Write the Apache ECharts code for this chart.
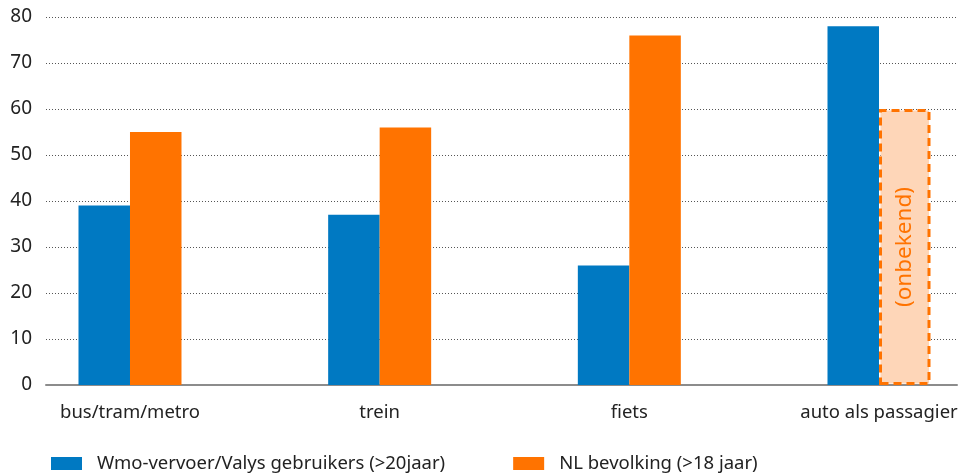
<!DOCTYPE html>
<html>
<head>
<meta charset="utf-8">
<script src="https://cdn.jsdelivr.net/npm/echarts@6/dist/echarts.min.js"></script>
<style>
  html, body { margin: 0; padding: 0; background: #fff; }
  #chart { width: 962px; height: 475px; }
</style>
</head>
<body>
<div id="chart"></div>
<script>
// Vervoerwijzen en aandeel gebruikers (%)
const categories = ['bus/tram/metro', 'trein', 'fiets', 'auto als passagier'];
const wmoValues = [39, 37, 26, 78];
const nlValues = [55, 56, 76, 60];
const unknownIndex = 3; // NL-waarde voor 'auto als passagier' is onbekend
const yTicks = [0, 10, 20, 30, 40, 50, 60, 70, 80];
const seriesNames = ['Wmo-vervoer/Valys gebruikers (>20jaar)', 'NL bevolking (>18 jaar)'];

const BLUE = '#0079C2';
const ORANGE = '#FF7300';
const FONT = '"Noto Sans", sans-serif';
const TEXT = '#222';

// categorieposities op een numerieke x-as, zodat de groepen vrij te plaatsen zijn
const catPos = categories.map((c, i) => i);

const chart = echarts.init(document.getElementById('chart'), null, { renderer: 'canvas' });

const wmoData = wmoValues.map((v, i) => [catPos[i], v]);
const nlData = nlValues.map((v, i) => {
  if (i !== unknownIndex) return [catPos[i], v];
  return {
    value: [catPos[i], v],
    itemStyle: {
      color: '#FED6B8',
      borderColor: ORANGE,
      borderWidth: 3,
      borderType: [8, 5]
    },
    label: {
      show: true,
      position: 'inside',
      rotate: 90,
      formatter: '(onbekend)',
      color: ORANGE,
      fontFamily: FONT,
      fontSize: 22.5
    }
  };
});

chart.setOption({
  animation: false,
  backgroundColor: '#fff',
  textStyle: { fontFamily: FONT },
  legend: {
    left: 51,
    top: 454,
    padding: 0,
    itemWidth: 31,
    itemHeight: 13,
    itemGap: 68,
    icon: 'rect',
    textStyle: { fontFamily: FONT, fontSize: 18.5, color: TEXT, padding: [0, 0, 0, 10] },
    data: seriesNames
  },
  grid: { left: 46, right: 5, top: 17, bottom: 90 },
  xAxis: {
    type: 'value',
    min: -0.3364,
    max: 3.3124,
    axisLine: { show: true, onZero: true, lineStyle: { color: '#8C8C8C', width: 2 } },
    axisTick: { show: false },
    splitLine: { show: false },
    axisLabel: {
      customValues: catPos,
      formatter: v => categories[Math.round(v)],
      margin: 18,
      fontFamily: FONT,
      fontSize: 18.5,
      color: TEXT,
      showMinLabel: true,
      showMaxLabel: true,
      hideOverlap: false
    }
  },
  yAxis: {
    type: 'value',
    min: yTicks[0],
    max: yTicks[yTicks.length - 1],
    interval: 10,
    axisLine: { show: false },
    axisTick: { show: false },
    axisLabel: { margin: 14, fontFamily: FONT, fontSize: 19, color: TEXT },
    splitLine: { show: true, lineStyle: { color: '#555', width: 1, type: [1, 2] } }
  },
  series: [
    {
      name: seriesNames[0],
      type: 'bar',
      data: wmoData,
      barWidth: 51.5,
      barGap: '0%',
      itemStyle: { color: BLUE },
      z: 3
    },
    {
      name: seriesNames[1],
      type: 'bar',
      data: nlData,
      barWidth: 51.5,
      barGap: '0%',
      itemStyle: { color: ORANGE },
      z: 3
    }
  ]
});
</script>
</body>
</html>
